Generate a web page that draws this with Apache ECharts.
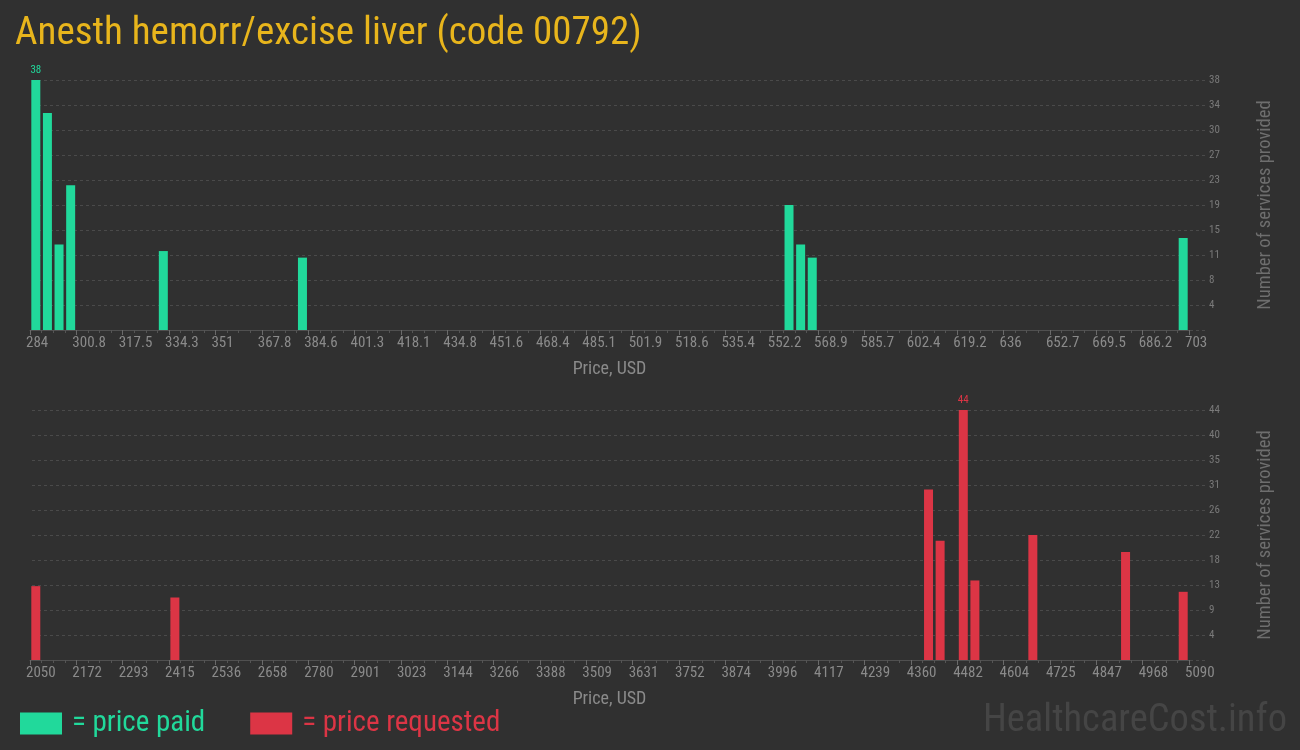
<!DOCTYPE html>
<html>
<head>
<meta charset="utf-8">
<script src="https://cdn.jsdelivr.net/npm/echarts@6/dist/echarts.min.js"></script>
<style>
html,body{margin:0;padding:0;background:#303030;}
#chart{width:1300px;height:750px;}
</style>
</head>
<body>
<div id="chart"></div>
<script>
// ---- data ----
var titleText = 'Anesth hemorr/excise liver (code 00792)';
// price paid histogram (bin centre price, count)
var paidPrices = [286.1, 290.3, 294.5, 298.7, 332.2, 382.5, 558.4, 562.6, 566.8, 700.9];
var paidCounts = [38, 33, 13, 22, 12, 11, 19, 13, 11, 14];
// price requested histogram
var reqPrices = [2065.2, 2430.0, 4406.8, 4437.2, 4498.0, 4528.4, 4680.4, 4923.6, 5074.8];
var reqCounts = [13, 11, 30, 21, 44, 14, 22, 19, 12];
// axis ranges
var paidMin = 284, paidMax = 703, paidStep = 16.76;
var reqMin = 2050, reqMax = 5090, reqStep = 121.6;
var paidYMax = 38, reqYMax = 44;

var GREEN = '#21d99b', RED = '#dc3545';
var NARROW = '"Roboto Condensed","Liberation Sans Narrow","DejaVu Sans Condensed",Roboto,sans-serif';

function pairs(xs, ys){ return xs.map(function(x,i){ return [x, ys[i]]; }); }
function maxOf(a){ return Math.max.apply(null, a); }

function xAxisCfg(gi, min, max, step, fmt){
  return {
    type:'value', gridIndex:gi, min:min, max:max, interval:step,
    name:'Price, USD', nameLocation:'middle', nameGap:30,
    nameTextStyle:{color:'#8a8a8a', fontSize:18, fontFamily:NARROW},
    axisLine:{show:true, lineStyle:{color:'#505050'}},
    axisTick:{show:true, length:5, lineStyle:{color:'#6a6a6a'}},
    minorTick:{show:true, splitNumber:4, length:3, lineStyle:{color:'#555'}},
    splitLine:{show:false},
    axisLabel:{color:'#8a8a8a', fontSize:15, fontFamily:NARROW, align:'left', padding:[0,0,0,-4], margin:6,
      formatter:fmt, showMaxLabel:true, showMinLabel:true}
  };
}
function hiddenX(gi){
  return {type:'value', gridIndex:gi, min:0, max:1, show:false};
}
function yAxisCfg(gi, max){
  return {
    type:'value', gridIndex:gi, position:'right', min:0, max:max, interval:max/10,
    name:'Number of services provided', nameLocation:'middle', nameRotate:90, nameGap:67,
    nameTextStyle:{color:'#6e6e6e', fontSize:18.5, fontFamily:NARROW},
    axisLine:{show:false}, axisTick:{show:false},
    axisLabel:{color:'#7a7a7a', fontSize:11, fontFamily:NARROW, margin:20,
      formatter:function(v){ return v===0 ? '' : String(Math.round(v)); }},
    splitLine:{show:false}
  };
}
function gridLinesY(gi, max){
  return {
    type:'value', gridIndex:gi, min:0, max:max, interval:max/10,
    axisLine:{show:false}, axisTick:{show:false}, axisLabel:{show:false},
    splitLine:{show:true, lineStyle:{color:'#4a4a4a', type:[3,3]}}
  };
}
function barSeries(name, xi, data, color){
  var mx = maxOf(data.map(function(d){return d[1];}));
  return {
    name:name, type:'bar', xAxisIndex:xi, yAxisIndex:xi, barWidth:9,
    itemStyle:{color:color},
    data:data.map(function(d){
      return d[1]===mx ? {value:d, label:{show:true, position:'top', distance:4, color:color, fontSize:11, fontFamily:NARROW, formatter:String(d[1])}} : {value:d};
    }),
    animation:false
  };
}

var chart = echarts.init(document.getElementById('chart'));
chart.setOption({
  backgroundColor:'#303030',
  animation:false,
  title:{text:titleText, left:15, top:15, padding:0, textStyle:{color:'#e8b51c', fontSize:39, fontWeight:'normal', fontFamily:NARROW}},
  grid:[
    {left:30, right:111, top:80, height:250},
    {left:30, right:111, top:410, height:250},
    {left:32, right:94, top:80, height:250},
    {left:32, right:94, top:410, height:250}
  ],
  xAxis:[
    xAxisCfg(0, paidMin, paidMax, paidStep, function(v){ return String(Number(v.toFixed(1))); }),
    xAxisCfg(1, reqMin, reqMax, reqStep, function(v){ return String(Math.round(v)); }),
    hiddenX(2), hiddenX(3)
  ],
  yAxis:[ yAxisCfg(0, paidYMax), yAxisCfg(1, reqYMax), gridLinesY(2, paidYMax), gridLinesY(3, reqYMax) ],
  legend:{
    left:20, top:709, padding:0, itemWidth:42, itemHeight:22, itemGap:45, icon:'rect',
    textStyle:{fontSize:29, fontFamily:NARROW, padding:[0,0,0,5]},
    data:[
      {name:'= price paid', textStyle:{color:GREEN}},
      {name:'= price requested', textStyle:{color:RED}}
    ],
    selectedMode:false
  },
  series:[
    barSeries('= price paid', 0, pairs(paidPrices, paidCounts), GREEN),
    barSeries('= price requested', 1, pairs(reqPrices, reqCounts), RED)
  ],
  graphic:[{
    type:'text', right:13, top:702,
    style:{text:'HealthcareCost.info', fill:'#454545', fontSize:38.5, fontFamily:NARROW}
  }]
});
</script>
</body>
</html>
